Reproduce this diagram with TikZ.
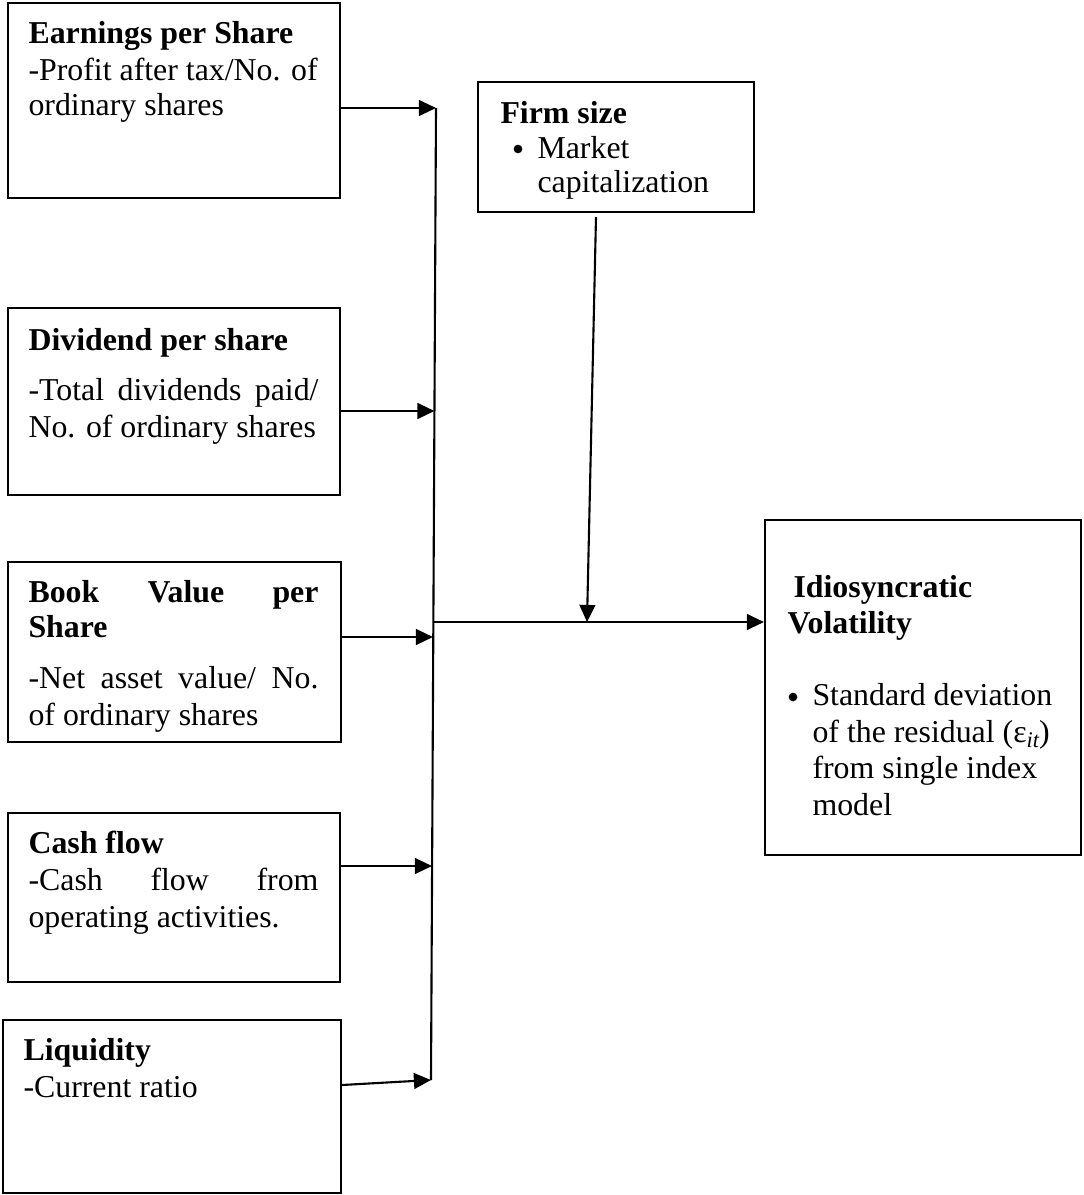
\documentclass[tikz,border=0pt]{standalone}
\usepackage{fontspec}
\setmainfont{Liberation Serif}
\usetikzlibrary{arrows.meta,fit}
\begin{document}
\begin{tikzpicture}[x=0.38pt,y=-0.38pt,
  font=\fontsize{12.1}{13.7}\selectfont,
  boxnode/.style={draw, line width=0.8pt, inner sep=0pt},
  txt/.style={anchor=base west, inner sep=0pt},
  ttl/.style={anchor=base west, inner sep=0pt, font=\fontsize{12.1}{13.7}\selectfont\bfseries},
  bul/.style={circle, fill=black, inner sep=0pt, minimum size=3.3pt},
  conn/.style={line width=0.8pt},
  arr/.style={line width=0.8pt, -{Triangle[length=6.5pt,width=6pt]}}]
\useasboundingbox (0,0) rectangle (1083,1195);

% boxes
\node[boxnode, fit={(8,3) (340,198)}] (eps) {};
\node[boxnode, fit={(8,308) (340,495)}] (dps) {};
\node[boxnode, fit={(8,562) (341,742)}] (bvps) {};
\node[boxnode, fit={(8,813) (340,982)}] (cf) {};
\node[boxnode, fit={(3,1020) (341,1193)}] (liq) {};
\node[boxnode, fit={(478,82) (754,212)}] (firm) {};
\node[boxnode, fit={(765,520) (1081,855)}] (idio) {};

% texts
\node[ttl] (t1) at (28,43) {Earnings per Share};
\node[txt] (t2) at (28,80) {-Profit after tax/No. of};
\node[txt] (t3) at (28,115) {ordinary shares};

\node[ttl] (t4) at (28,350) {Dividend per share};
\node[txt] (t5) at (28,400) {\makebox[110.2pt][s]{-Total\hfill dividends\hfill paid/}};
\node[txt] (t6) at (28,437) {No. of ordinary shares};

\node[ttl] (t7) at (28,602) {\makebox[110.2pt][s]{Book\hfill Value\hfill per}};
\node[ttl] (t8) at (28,637) {Share};
\node[txt] (t9) at (28,688) {\makebox[110.2pt][s]{-Net\hfill asset\hfill value/\hfill No.}};
\node[txt] (t10) at (28,725) {of ordinary shares};

\node[ttl] (t11) at (28,853) {Cash flow};
\node[txt] (t12) at (28,890) {\makebox[110.2pt][s]{-Cash\hfill flow\hfill from}};
\node[txt] (t13) at (28,927) {operating activities.};

\node[ttl] (t14) at (23,1060) {Liquidity};
\node[txt] (t15) at (23,1097) {-Current ratio};

\node[ttl] (t16) at (500,123) {Firm size};
\node[bul] (b1) at (518,149) {};
\node[txt] (t18) at (537,158) {Market};
\node[txt] (t19) at (537,192) {capitalization};

\node[ttl] (t20) at (793,597) {Idiosyncratic};
\node[ttl] (t21) at (787,633) {Volatility};
\node[bul] (b2) at (793,697) {};
\node[txt] (t23) at (812,705) {Standard deviation};
\node[txt] (t24) at (812,742) {of the residual (ε\raisebox{-0.35ex}{\fontsize{8.5}{9}\selectfont\itshape it})};
\node[txt] (t25) at (812,778) {from single index};
\node[txt] (t26) at (812,815) {model};

% bus coordinates
\coordinate (j1) at (436,108);
\coordinate (j2) at (434.5,411);
\coordinate (m) at (433.5,622);
\coordinate (j3) at (433,637);
\coordinate (j4) at (432,866);
\coordinate (j5) at (431,1080);
\coordinate (fs) at (596,217);
\coordinate (fe) at (587,622);

\draw[conn] (j1) -- (j5);
\draw[arr] (eps.east |- j1) -- (j1);
\draw[arr] (dps.east |- j2) -- (j2);
\draw[arr] (bvps.east |- j3) -- (j3);
\draw[arr] (cf.east |- j4) -- (j4);
\draw[arr] (liq.east |- 0,1085) -- (j5);
\draw[arr] (m) -- (idio.west |- m);
\draw[arr] (fs) -- (fe);
\end{tikzpicture}
\end{document}
